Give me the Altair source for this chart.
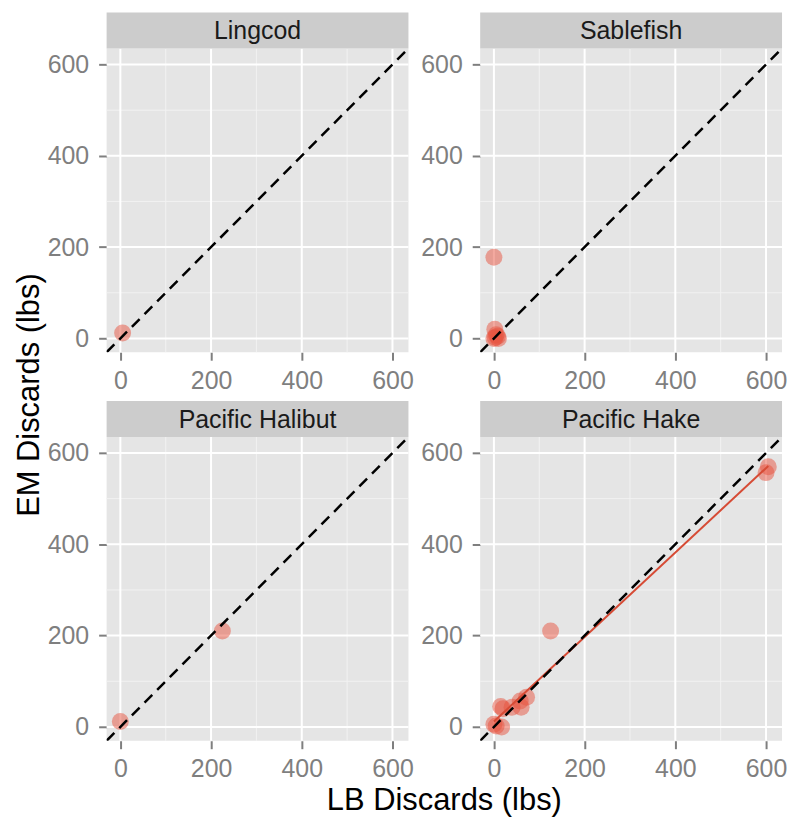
import altair as alt
import pandas as pd

species = ["Lingcod", "Sablefish", "Pacific Halibut", "Pacific Hake"]

lingcod_lb = [5]
lingcod_em = [12]
sablefish_lb = [0, 2, 5, 8, 10, 3, 0]
sablefish_em = [178, 20, 8, 5, 0, 2, 0]
halibut_lb = [0, 225]
halibut_em = [12, 210]
hake_lb = [605, 600, 125, 15, 20, 0, 17, 40, 60, 72, 58, 5]
hake_em = [570, 557, 210, 45, 40, 6, 0, 43, 43, 65, 57, 2]

lb_values = {"Lingcod": lingcod_lb, "Sablefish": sablefish_lb,
             "Pacific Halibut": halibut_lb, "Pacific Hake": hake_lb}
em_values = {"Lingcod": lingcod_em, "Sablefish": sablefish_em,
             "Pacific Halibut": halibut_em, "Pacific Hake": hake_em}
fit_species = ["Pacific Hake"]

major_ticks = [0, 200, 400, 600]
minor_ticks = [100, 300, 500]
axis_domain = [-30.25, 635.25]
x_title = "LB Discards (lbs)"
y_title = "EM Discards (lbs)"

W, H = 303, 305
STRIP = 36
FONT = "Liberation Sans"
POINT_COLOR = "#E8533F"
FIT_COLOR = "#D64B35"


def make_axis(pad):
    return alt.Axis(values=major_ticks, grid=False, domain=False, title=None,
                    labelFont=FONT, labelFontSize=25, labelColor="#7F7F7F",
                    tickColor="#7F7F7F", tickSize=8, tickWidth=2,
                    labelPadding=pad, labelFlush=False, format="d")


def panel(idx, name):
    xs = alt.Scale(domain=axis_domain, nice=False, zero=False)
    ys = alt.Scale(domain=axis_domain, nice=False, zero=False)

    def X(field):
        return alt.X(field, scale=xs, axis=make_axis(8))

    def Y(field):
        return alt.Y(field, scale=ys, axis=make_axis(10))

    df = pd.DataFrame({"LB": lb_values[name], "EM": em_values[name]})
    minor_df = pd.DataFrame({"v": minor_ticks})
    major_df = pd.DataFrame({"v": major_ticks})
    diag_df = pd.DataFrame({"v": axis_domain})

    minor_x = alt.Chart(minor_df).mark_rule(color="#F2F2F2", strokeWidth=1).encode(x=X("v:Q"))
    minor_y = alt.Chart(minor_df).mark_rule(color="#F2F2F2", strokeWidth=1).encode(y=Y("v:Q"))
    major_x = alt.Chart(major_df).mark_rule(color="white", strokeWidth=2).encode(x=X("v:Q"))
    major_y = alt.Chart(major_df).mark_rule(color="white", strokeWidth=2).encode(y=Y("v:Q"))

    pts = alt.Chart(df).mark_circle(size=290, color=POINT_COLOR, opacity=0.5).encode(
        x=X("LB:Q"), y=Y("EM:Q"))

    diag = alt.Chart(diag_df).mark_line(color="black", strokeDash=[11, 7],
                                         strokeWidth=2.5, clip=True).encode(
        x=X("v:Q"), y=Y("v:Q"))

    label_df = pd.DataFrame({"label": [name]})
    strip = alt.Chart(label_df).mark_rect(color="#CCCCCC").encode(
        x=alt.value(0), x2=alt.value(W), y=alt.value(-STRIP), y2=alt.value(0))
    strip_text = alt.Chart(label_df).mark_text(
        font=FONT, fontSize=25, color="#1A1A1A", baseline="middle", align="center").encode(
        x=alt.value(W / 2), y=alt.value(-STRIP / 2 + 1), text="label:N")

    layers = [minor_x, minor_y, major_x, major_y, pts]
    if name in fit_species:
        fit = alt.Chart(df).transform_regression("LB", "EM").mark_line(
            color=FIT_COLOR, strokeWidth=2).encode(x=X("LB:Q"), y=Y("EM:Q"))
        layers.append(fit)
    layers += [diag, strip, strip_text]

    if idx == 0:
        anchor = alt.Chart(pd.DataFrame({"a": [1]})).mark_rect(opacity=0).encode(
            x=alt.value(-99), x2=alt.value(0), y=alt.value(-39), y2=alt.value(0))
        ytitle = alt.Chart(pd.DataFrame({"t": [y_title]})).mark_text(
            font=FONT, fontSize=31, angle=270, color="black", baseline="middle",
            align="center").encode(x=alt.value(-77), y=alt.value(348), text="t:N")
        layers += [anchor, ytitle]
    if idx == 2:
        xtitle = alt.Chart(pd.DataFrame({"t": [x_title]})).mark_text(
            font=FONT, fontSize=31, color="black", baseline="middle",
            align="center").encode(x=alt.value(339), y=alt.value(366), text="t:N")
        layers.append(xtitle)

    return alt.layer(*layers).properties(width=W, height=H)


panels = [panel(i, s) for i, s in enumerate(species)]

chart = alt.concat(*panels, columns=2, spacing={"row": 85, "column": 72},
                   bounds="flush").properties(
    padding=0, background="white"
).configure_view(fill="#E5E5E5", strokeWidth=0)

chart.save("out.html", embed_options={"renderer": "svg", "actions": False})
